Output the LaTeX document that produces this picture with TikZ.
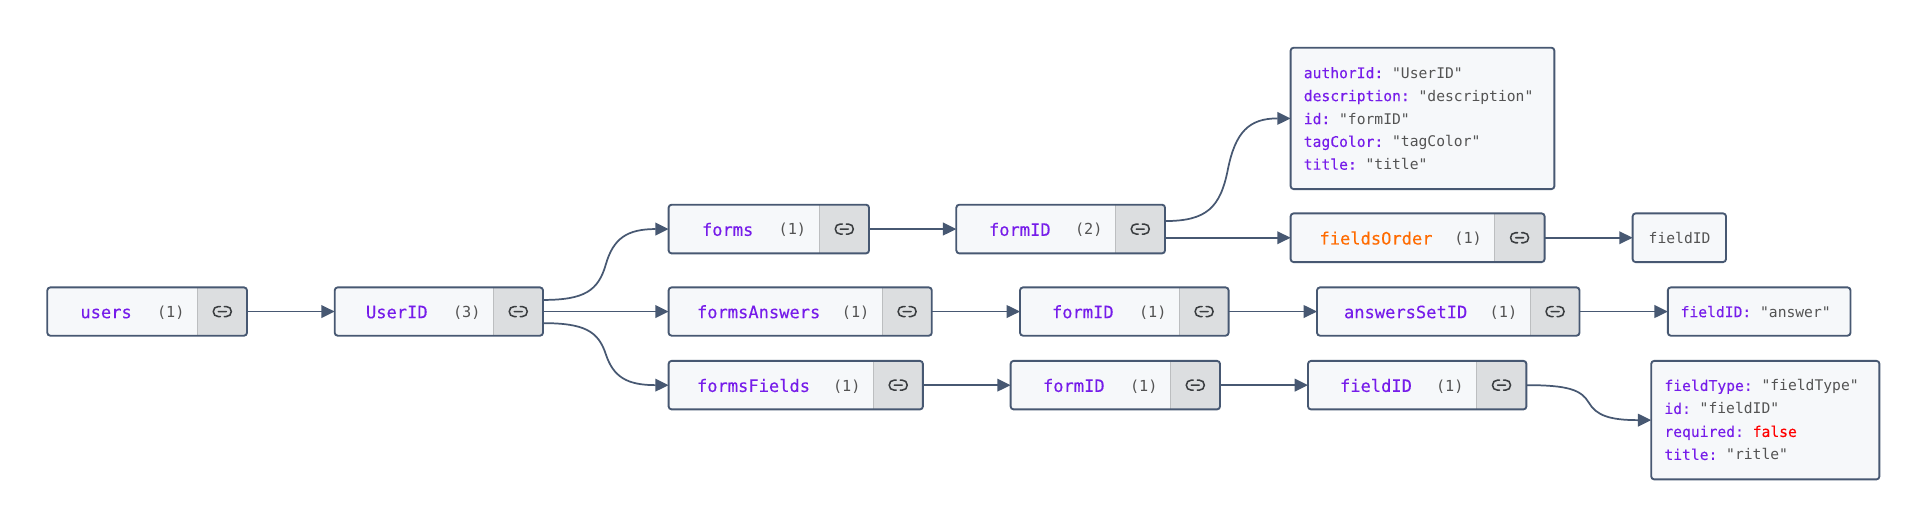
\documentclass[tikz,border=0pt]{standalone}
\usepackage{fontspec}
\setmonofont{DejaVu Sans Mono}
\renewcommand{\familydefault}{\ttdefault}
\newfontfamily\keyfont{DejaVu Sans Mono}[FakeBold=0.25]
\usetikzlibrary{arrows.meta,calc}
\definecolor{nodebg}{HTML}{F6F8FA}
\definecolor{linkbg}{HTML}{DCDEE0}
\definecolor{divcol}{HTML}{BCBEC0}
\definecolor{edgecol}{HTML}{475872}
\definecolor{keycol}{HTML}{761CEA}
\definecolor{valcol}{HTML}{535353}
\definecolor{ordercol}{HTML}{FF6B00}
\definecolor{iconcol}{HTML}{3A3D40}
\tikzset{
  boxline/.style={draw=edgecol,line width=1.4pt,rounded corners=2.25pt,inner sep=0pt,outer sep=0pt},
  edge/.style={draw=edgecol,line width=1.3pt,-{Triangle[length=10pt,width=9.5pt]}},
  lbltext/.style={inner sep=0pt,outer sep=0pt,anchor=base west,font=\keyfont\fontsize{12.8pt}{15pt}\selectfont},
  cnttext/.style={inner sep=0pt,outer sep=0pt,anchor=base west,text=valcol,font=\fontsize{11.4pt}{13pt}\selectfont},
  smalltext/.style={inner sep=0pt,outer sep=0pt,anchor=base west,font=\fontsize{11pt}{13pt}\selectfont,text=valcol},
  linkicon/.pic={
    \draw[iconcol,line width=1.15pt,line cap=round]
      (-2,-5) -- (-4,-5) .. controls (-7,-5) and (-9,-3) .. (-9,0) .. controls (-9,3) and (-7,5) .. (-4,5) -- (-2,5)
      (2,-5) -- (4,-5) .. controls (7,-5) and (9,-3) .. (9,0) .. controls (9,3) and (7,5) .. (4,5) -- (2,5)
      (-4,0) -- (4,0);
  }
}
% name, x1, y1, x2, y2, split
\newcommand{\lbox}[6]{%
  \fill[nodebg,rounded corners=2.25pt] (#2,#3) rectangle (#4,#5);
  \begin{scope}
    \clip[rounded corners=2.25pt] (#2,#3) rectangle (#4,#5);
    \fill[linkbg] (#6,#3) rectangle (#4,#5);
    \draw[divcol,line width=0.75pt] (#6,#3) -- (#6,#5);
  \end{scope}
  \node[boxline,minimum width={(#4-#2)*0.75pt},minimum height={(#5-#3)*0.75pt}] (#1) at ({(#2+#4)/2},{(#3+#5)/2}) {};
  \pic at ({(#6+#4)/2},{(#3+#5)/2}) {linkicon};
}
% name, x1, y1, x2, y2 (plain box)
\newcommand{\pbox}[5]{%
  \node[boxline,fill=nodebg,minimum width={(#4-#2)*0.75pt},minimum height={(#5-#3)*0.75pt}] (#1) at ({(#2+#4)/2},{(#3+#5)/2}) {};
}
% name, labelx, centre y, colour, label, countx, count
\newcommand{\lbl}[7]{%
  \node[lbltext,text=#4] (#1-label) at (#2,#3+6.8) {#5};
  \node[cnttext] (#1-count) at (#6-1,#3+6) {#7};
}
% S-shaped edge
\newcommand{\sedge}[2]{%
  \draw[edge] let \p1=(#1),\p2=(#2),\n1={\x2-\x1},\n2={\y2-\y1} in
    (\p1) .. controls ({\x1+0.33*\n1},\y1) and ({\x1+0.44*\n1},{\y1+0.13*\n2}) ..
    ({\x1+0.5*\n1},{\y1+0.5*\n2}) .. controls ({\x1+0.56*\n1},{\y1+0.87*\n2}) and ({\x1+0.67*\n1},\y2) .. (\p2);
}
\newcommand{\kv}[2]{{\keyfont\textcolor{keycol}{#1:}} #2}
\begin{document}
\begin{tikzpicture}[x=0.75pt,y=-0.75pt]
\fill[white] (0,0) rectangle (1926,523);
\useasboundingbox (0,0) rectangle (1926,523);
\begin{scope}[yshift=-0.3pt]

\lbox{users}{47.3}{287}{247}{335.3}{197.6}
\lbl{users}{80.4}{311}{keycol}{users}{158}{(1)}
\lbox{UserID}{334.7}{287}{543}{335.3}{493.5}
\lbl{UserID}{366}{311}{keycol}{UserID}{454}{(3)}

\lbox{forms}{668.6}{204.3}{869}{253}{819.6}
\lbl{forms}{702}{228.6}{keycol}{forms}{779.6}{(1)}
\lbox{formIDa}{956.3}{204.3}{1165}{253}{1115.5}
\lbl{formIDa}{989}{228.6}{keycol}{formID}{1076}{(2)}

\lbox{formsAnswers}{668.6}{287}{931.8}{335.3}{882.4}
\lbl{formsAnswers}{697}{311}{keycol}{formsAnswers}{842.9}{(1)}
\lbox{formIDb}{1020}{287}{1228.6}{335.3}{1179.6}
\lbl{formIDb}{1052}{311}{keycol}{formID}{1140}{(1)}
\lbox{answersSetID}{1317}{287}{1579.5}{335.3}{1530.6}
\lbl{answersSetID}{1344}{311}{keycol}{answersSetID}{1490.7}{(1)}

\lbox{formsFields}{668.6}{360.5}{922.9}{409}{873.5}
\lbl{formsFields}{697}{384.7}{keycol}{formsFields}{834}{(1)}
\lbox{formIDc}{1010.6}{360.5}{1220}{409}{1170.6}
\lbl{formIDc}{1043}{384.7}{keycol}{formID}{1131}{(1)}
\lbox{fieldID}{1308}{360.5}{1526.4}{409}{1476.6}
\lbl{fieldID}{1340}{384.7}{keycol}{fieldID}{1437}{(1)}

\lbox{fieldsOrder}{1290.6}{213}{1544.6}{261.7}{1494.5}
\lbl{fieldsOrder}{1319.5}{237.3}{ordercol}{fieldsOrder}{1455.4}{(1)}

\pbox{fieldleaf}{1632.6}{213}{1726}{261.7}
\node[smalltext] (fieldleaf-text) at (1648.7,243) {fieldID};
\pbox{answerleaf}{1667.8}{287}{1850.5}{335.3}
\node[smalltext] (answerleaf-text) at (1680.6,316.8) {\kv{fieldID}{"answer"}};

\pbox{formdata}{1290.6}{47.3}{1554.4}{188.7}
\node[smalltext] (fd1) at (1303.8,77.8) {\kv{authorId}{"UserID"}};
\node[smalltext] (fd2) at (1303.8,100.7) {\kv{description}{"description"}};
\node[smalltext] (fd3) at (1303.8,123.7) {\kv{id}{"formID"}};
\node[smalltext] (fd4) at (1303.8,146.5) {\kv{tagColor}{"tagColor"}};
\node[smalltext] (fd5) at (1303.8,169.3) {\kv{title}{"title"}};

\pbox{fielddata}{1651.2}{360.5}{1879.4}{479}
\node[smalltext] (ff1) at (1664.4,390.5) {\kv{fieldType}{"fieldType"}};
\node[smalltext] (ff2) at (1664.4,413.5) {\kv{id}{"fieldID"}};
\node[smalltext] (ff3) at (1664.4,436.5) {\kv{required}{{\keyfont\textcolor{red}{false}}}};
\node[smalltext] (ff4) at (1664.4,459.5) {\kv{title}{"ritle"}};

\coordinate (UserID-up) at ($(UserID.east)+(0,-11.6)$);
\coordinate (UserID-down) at ($(UserID.east)+(0,11.6)$);
\coordinate (formIDa-up) at ($(formIDa.east)+(0,-8)$);
\coordinate (formIDa-down) at (formIDa.east |- fieldsOrder.west);

\draw[edge] (users.east) -- (UserID.west);
\sedge{UserID-up}{forms.west}
\draw[edge] (UserID.east) -- (formsAnswers.west);
\sedge{UserID-down}{formsFields.west}
\draw[edge] (forms.east) -- (formIDa.west);
\draw[edge] (formsAnswers.east) -- (formIDb.west);
\draw[edge] (formsFields.east) -- (formIDc.west);
\sedge{formIDa-up}{formdata.west}
\draw[edge] (formIDa-down) -- (fieldsOrder.west);
\draw[edge] (formIDb.east) -- (answersSetID.west);
\draw[edge] (formIDc.east) -- (fieldID.west);
\draw[edge] (fieldsOrder.east) -- (fieldleaf.west);
\draw[edge] (answersSetID.east) -- (answerleaf.west);
\sedge{fieldID.east}{fielddata.west}
\end{scope}
\end{tikzpicture}
\end{document}
